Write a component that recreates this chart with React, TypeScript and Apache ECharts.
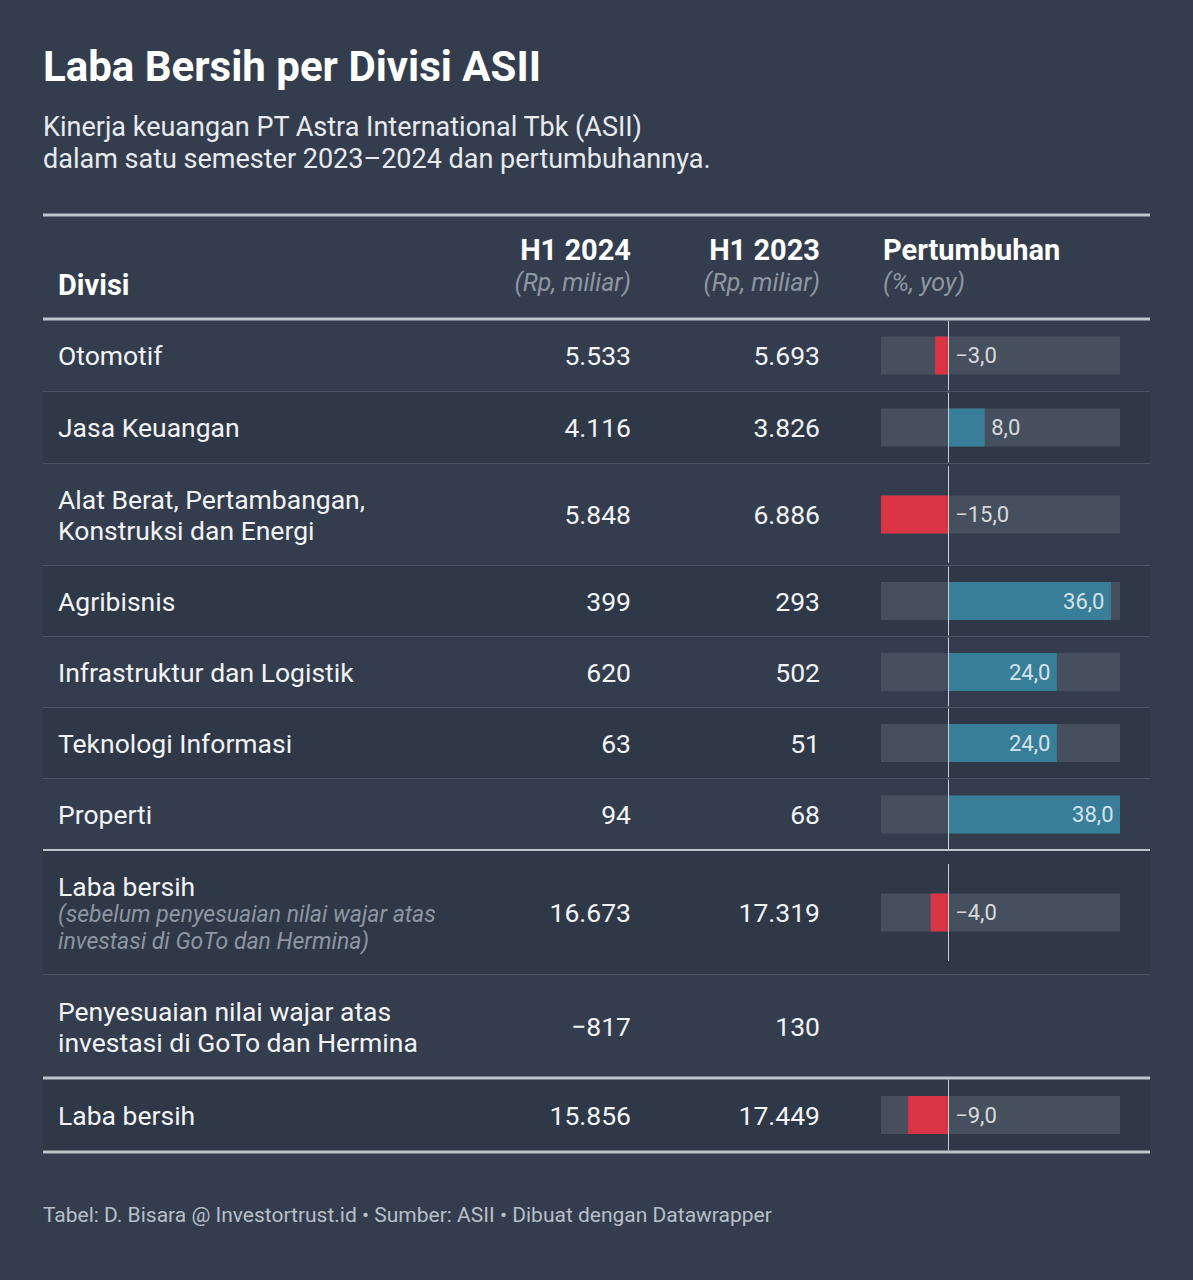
import React, { useEffect, useRef } from "react";
import * as echarts from "echarts";

const title = "Laba Bersih per Divisi ASII";
const subtitleLines = [
  "Kinerja keuangan PT Astra International Tbk (ASII)",
  "dalam satu semester 2023–2024 dan pertumbuhannya.",
];
const headers = ["Divisi", "H1 2024", "H1 2023", "Pertumbuhan"];
const headerNotes = ["", "(Rp, miliar)", "(Rp, miliar)", "(%, yoy)"];
const divisions = [
  "Otomotif",
  "Jasa Keuangan",
  "Alat Berat, Pertambangan,\nKonstruksi dan Energi",
  "Agribisnis",
  "Infrastruktur dan Logistik",
  "Teknologi Informasi",
  "Properti",
  "Laba bersih",
  "Penyesuaian nilai wajar atas\ninvestasi di GoTo dan Hermina",
  "Laba bersih",
];
const divisionNotes = [
  "", "", "", "", "", "", "",
  "(sebelum penyesuaian nilai wajar atas\ninvestasi di GoTo dan Hermina)",
  "", "",
];
const h1_2024 = [5533, 4116, 5848, 399, 620, 63, 94, 16673, -817, 15856];
const h1_2023 = [5693, 3826, 6886, 293, 502, 51, 68, 17319, 130, 17449];
const growth: (number | null)[] = [-3, 8, -15, 36, 24, 24, 38, -4, null, -9];
const growthMin = -15;
const growthMax = 38;
const footer = "Tabel: D. Bisara @ Investortrust.id • Sumber: ASII • Dibuat dengan Datawrapper";

// layout
const W = 1193;
const H = 1280;
const L = 43;
const R = 1150;
const rowTops = [320, 392, 464, 566, 637, 708, 779, 851, 975, 1079];
const tableBottom = 1151;
const thickRules = [215, 319, 1078, 1152];
const mediumRules = [850];
const BG = "#333d4e";
const STRIPE = "#2f3847";
const FONT = "Roboto, 'Noto Sans', sans-serif";
const TEXT = "#f2f3f5";
const MUTED = "#8e96a2";
const barLeft = 881;
const barWidthPx = 239;

function fmtNum(n: number) {
  const s = Math.abs(n).toString().replace(/\B(?=(\d{3})+(?!\d))/g, ".");
  return (n < 0 ? "\u2212" : "") + s;
}
function fmtPct(n: number) {
  return (n < 0 ? "\u2212" : "") + Math.abs(n).toFixed(1).replace(".", ",");
}

export default function App() {
  const ref = useRef<HTMLDivElement>(null);
  useEffect(() => {
    if (!ref.current) return;
    const chart = echarts.init(ref.current, null, { renderer: "svg", width: W, height: H });

    const rowBottoms = rowTops.map((t, i) => (i < rowTops.length - 1 ? rowTops[i + 1] - 1 : tableBottom));
    const graphics: any[] = [];

    rowTops.forEach((t, i) => {
      if (i % 2 === 1) {
        graphics.push({
          type: "rect",
          z: 0,
          shape: { x: L, y: t, width: R - L, height: rowBottoms[i] - t + 1 },
          style: { fill: STRIPE },
        });
      }
    });
    rowTops.forEach((t, i) => {
      if (i === 0) return;
      const y = t - 0.5;
      if (mediumRules.some((m) => Math.abs(m - t) < 3) || thickRules.some((m) => Math.abs(m - t) < 3)) return;
      graphics.push({
        type: "line",
        z: 1,
        shape: { x1: L, y1: y, x2: R, y2: y },
        style: { stroke: "#4a5466", lineWidth: 1 },
      });
    });
    thickRules.forEach((y) =>
      graphics.push({
        type: "line",
        z: 1,
        shape: { x1: L, y1: y, x2: R, y2: y },
        style: { stroke: "#bac5cc", lineWidth: 3 },
      })
    );
    mediumRules.forEach((y) =>
      graphics.push({
        type: "line",
        z: 1,
        shape: { x1: L, y1: y, x2: R, y2: y },
        style: { stroke: "#bac5cc", lineWidth: 2 },
      })
    );

    graphics.push({
      type: "text",
      x: L,
      y: 66,
      style: { text: title, fill: "#ffffff", fontSize: 42, fontWeight: "bold", fontFamily: FONT, verticalAlign: "middle" },
    });
    subtitleLines.forEach((s, i) =>
      graphics.push({
        type: "text",
        x: L,
        y: 127 + i * 32,
        style: { text: s, fill: "#e8eaee", fontSize: 27, fontFamily: FONT, verticalAlign: "middle" },
      })
    );

    const colX = [58, 631, 820, 883];
    const colAlign = ["left", "right", "right", "left"];
    headers.forEach((h, i) => {
      graphics.push({
        type: "text",
        x: colX[i],
        y: i === 0 ? 285 : 250,
        style: { text: h, fill: "#ffffff", fontSize: 29, fontWeight: "bold", fontFamily: FONT, align: colAlign[i], verticalAlign: "middle" },
      });
      if (headerNotes[i]) {
        graphics.push({
          type: "text",
          x: colX[i],
          y: 282,
          style: { text: headerNotes[i], fill: MUTED, fontSize: 25, fontStyle: "italic", fontFamily: FONT, align: colAlign[i], verticalAlign: "middle" },
        });
      }
    });

    divisions.forEach((d, i) => {
      const c = (rowTops[i] + rowBottoms[i]) / 2;
      if (divisionNotes[i]) {
        graphics.push({
          type: "text",
          x: 58,
          y: c - 26,
          style: { text: d, fill: TEXT, fontSize: 26.5, fontFamily: FONT, verticalAlign: "middle" },
        });
        graphics.push({
          type: "text",
          x: 58,
          y: c + 15,
          style: { text: divisionNotes[i], fill: MUTED, fontSize: 23, fontStyle: "italic", fontFamily: FONT, verticalAlign: "middle", lineHeight: 27 },
        });
      } else {
        graphics.push({
          type: "text",
          x: 58,
          y: c,
          style: { text: d, fill: TEXT, fontSize: 26.5, fontFamily: FONT, verticalAlign: "middle", lineHeight: 31 },
        });
      }
      graphics.push({
        type: "text",
        x: 631,
        y: c,
        style: { text: fmtNum(h1_2024[i]), fill: TEXT, fontSize: 26.5, fontFamily: FONT, align: "right", verticalAlign: "middle" },
      });
      graphics.push({
        type: "text",
        x: 820,
        y: c,
        style: { text: fmtNum(h1_2023[i]), fill: TEXT, fontSize: 26.5, fontFamily: FONT, align: "right", verticalAlign: "middle" },
      });
    });

    graphics.push({
      type: "text",
      x: L,
      y: 1215,
      style: { text: footer, fill: "#b9bfc8", fontSize: 21, fontFamily: FONT, verticalAlign: "middle" },
    });

    const grids: any[] = [];
    const xAxes: any[] = [];
    const yAxes: any[] = [];
    const series: any[] = [];
    growth.forEach((g, i) => {
      if (g === null) return;
      const k = grids.length;
      const c = (rowTops[i] + rowBottoms[i]) / 2;
      const top = Math.max(rowTops[i] + 1, c - 48);
      const bottom = Math.min(rowBottoms[i] - 1, c + 48);
      grids.push({ left: barLeft, width: barWidthPx, top, height: bottom - top });
      xAxes.push({
        type: "value",
        gridIndex: k,
        min: growthMin,
        max: growthMax,
        axisLine: { show: false },
        axisTick: { show: false },
        axisLabel: { show: false },
        splitLine: { show: false },
      });
      yAxes.push({
        type: "category",
        gridIndex: k,
        data: [divisions[i]],
        z: 10,
        axisLine: { show: true, onZero: true, lineStyle: { color: "#c9cfd5", width: 1 } },
        axisTick: { show: false },
        axisLabel: { show: false },
      });
      series.push({
        type: "bar",
        xAxisIndex: k,
        yAxisIndex: k,
        barWidth: 38,
        showBackground: true,
        backgroundStyle: { color: "#464f5d" },
        itemStyle: { color: g < 0 ? "#d93444" : "#387e99" },
        data: [g],
      });
      const inside = g >= 15;
      series.push({
        type: "scatter",
        xAxisIndex: k,
        yAxisIndex: k,
        symbolSize: 1,
        z: 12,
        itemStyle: { color: "transparent" },
        data: [
          {
            value: [g < 0 ? 0 : g, 0],
            label: {
              show: true,
              formatter: fmtPct(g),
              position: inside ? "left" : "right",
              distance: 6,
              color: "#ffffff",
              fontSize: 22,
              fontFamily: FONT,
            },
          },
        ],
      });
    });

    chart.setOption({
      animation: false,
      backgroundColor: BG,
      graphic: { elements: graphics },
      grid: grids,
      xAxis: xAxes,
      yAxis: yAxes,
      series,
    });
    return () => chart.dispose();
  }, []);
  return <div ref={ref} style={{ position: "absolute", left: 0, top: 0, width: W, height: H }} />;
}
